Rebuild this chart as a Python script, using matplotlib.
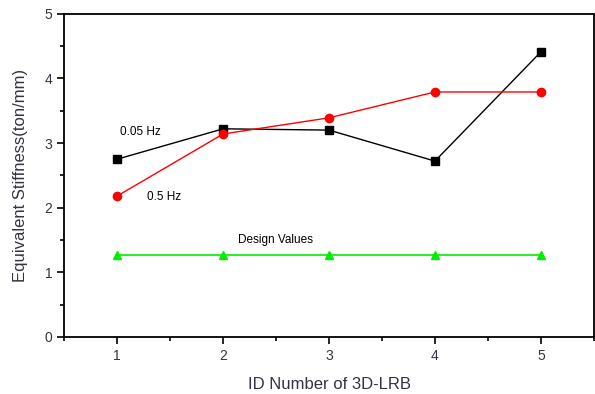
import matplotlib
matplotlib.use('Agg')
import matplotlib.pyplot as plt
from matplotlib.ticker import MultipleLocator

plt.rcParams['font.family'] = ['Liberation Sans', 'DejaVu Sans']

ids = [1, 2, 3, 4, 5]
k_005hz = [2.75, 3.22, 3.20, 2.72, 4.41]
k_05hz = [2.18, 3.14, 3.39, 3.79, 3.79]
k_design = [1.27, 1.27, 1.27, 1.27, 1.27]

fig = plt.figure(figsize=(5.95, 3.94), dpi=100)
ax = fig.add_axes([0.108, 0.145, 0.89, 0.82])

ax.plot(ids, k_005hz, color='black', lw=1, marker='s', ms=6)
ax.plot(ids, k_05hz, color='red', lw=1, marker='o', ms=6)
ax.plot(ids, k_design, color='#00ee00', lw=1.2, marker='^', ms=6)

ax.text(1.03, 3.13, '0.05 Hz', fontsize=8.5)
ax.text(1.28, 2.12, '0.5 Hz', fontsize=8.5)
ax.text(2.14, 1.45, 'Design Values', fontsize=8.5)

ax.set_xlim(0.5, 5.5)
ax.set_ylim(0, 5)
ax.xaxis.set_major_locator(MultipleLocator(1))
ax.xaxis.set_minor_locator(MultipleLocator(0.5))
ax.yaxis.set_major_locator(MultipleLocator(1))
ax.yaxis.set_minor_locator(MultipleLocator(0.5))
ax.tick_params(which='both', direction='out', width=1.2)
ax.tick_params(which='major', length=5, labelsize=10, labelcolor='#333344')
ax.tick_params(which='minor', length=3)
for s in ax.spines.values():
    s.set_linewidth(1.3)

ax.set_xlabel('ID Number of 3D-LRB', fontsize=12, color='#333344', labelpad=10)
ax.set_ylabel('Equivalent Stiffness(ton/mm)', fontsize=12, color='#333344', labelpad=12)

plt.savefig('out.png', dpi=100)
